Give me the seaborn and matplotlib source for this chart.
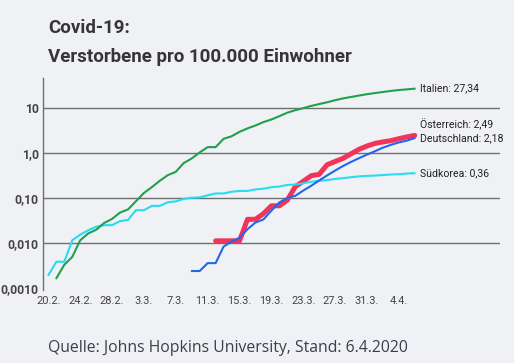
import pandas as pd
import numpy as np
import matplotlib
matplotlib.use("Agg")
import matplotlib.pyplot as plt
import seaborn as sns

# deaths per 100.000 inhabitants (JHU), one value per day from the start date
italy_start = "2020-02-21"
italy = [0.00165, 0.00331, 0.00496, 0.0116, 0.0165, 0.0199, 0.0281, 0.0347, 0.0480,
         0.0563, 0.0860, 0.1307, 0.177, 0.245, 0.326, 0.386, 0.606, 0.766, 1.044,
         1.368, 1.368, 2.095, 2.384, 2.993, 3.570, 4.141, 4.927, 5.634, 6.671, 7.983,
         9.060, 10.055, 11.284, 12.414, 13.592, 15.113, 16.583, 17.834, 19.178,
         20.563, 21.766, 23.023, 24.290, 25.417, 26.286, 27.34]

korea_start = "2020-02-20"
korea = [0.00194, 0.00387, 0.00387, 0.0116, 0.0155, 0.0194, 0.0232, 0.0252, 0.0252,
         0.0310, 0.0329, 0.0542, 0.0542, 0.0677, 0.0677, 0.0813, 0.0852, 0.0968,
         0.1026, 0.1045, 0.1161, 0.1277, 0.1277, 0.1393, 0.1452, 0.1452, 0.1568,
         0.1626, 0.1761, 0.1819, 0.1974, 0.2013, 0.2148, 0.2322, 0.2439, 0.2535,
         0.2690, 0.2787, 0.2942, 0.3058, 0.3135, 0.3193, 0.3271, 0.3368, 0.3426,
         0.3542, 0.36]

germany_start = "2020-03-09"
germany = [0.00241, 0.00241, 0.00361, 0.00361, 0.00843, 0.01084, 0.01325, 0.0205,
           0.0289, 0.0337, 0.0530, 0.0807, 0.1012, 0.1132, 0.1481, 0.1891, 0.2481,
           0.3216, 0.4119, 0.5215, 0.6419, 0.7768, 0.9334, 1.108, 1.333, 1.536,
           1.739, 1.908, 2.18]

austria_start = "2020-03-12"
austria = [0.0113, 0.0113, 0.0113, 0.0113, 0.034, 0.034, 0.0453, 0.0679, 0.0679,
           0.0906, 0.181, 0.238, 0.317, 0.340, 0.555, 0.656, 0.770, 0.973, 1.222,
           1.449, 1.653, 1.788, 1.902, 2.105, 2.309, 2.49]

end_labels = {"Italien": "Italien: 27,34", "Österreich": "Österreich: 2,49",
              "Deutschland": "Deutschland: 2,18", "Südkorea": "Südkorea: 0,36"}

xtick_dates = ["2020-02-20", "2020-02-24", "2020-02-28", "2020-03-03", "2020-03-07",
               "2020-03-11", "2020-03-15", "2020-03-19", "2020-03-23", "2020-03-27",
               "2020-03-31", "2020-04-04"]
xtick_labels = ["20.2.", "24.2.", "28.2.", "3.3.", "7.3.", "11.3.", "15.3.", "19.3.",
                "23.3.", "27.3.", "31.3.", "4.4."]
ytick_values = [0.001, 0.01, 0.1, 1, 10]
ytick_labels = ["0,0010", "0,010", "0,10", "1,0", "10"]


def make_frame(name, start, values):
    return pd.DataFrame({"Land": name,
                         "Datum": pd.date_range(start, periods=len(values), freq="D"),
                         "Wert": values})


df = pd.concat([make_frame("Österreich", austria_start, austria),
                make_frame("Südkorea", korea_start, korea),
                make_frame("Italien", italy_start, italy),
                make_frame("Deutschland", germany_start, germany)])

colors = {"Italien": "#1ea04e", "Südkorea": "#26dcf0",
          "Deutschland": "#2266ee", "Österreich": "#f0345a"}
widths = {"Italien": 1.5, "Südkorea": 1.5, "Deutschland": 1.5, "Österreich": 3.6}
label_offset = {"Italien": 0, "Südkorea": 0, "Deutschland": 0, "Österreich": 8}

sns.set_theme(style="white")
bg = "#f0f1f5"
plt.rcParams["font.family"] = ["Roboto", "DejaVu Sans"]

fig = plt.figure(figsize=(5.14, 3.63), dpi=100, facecolor=bg)
ax = fig.add_axes([43 / 514, 73 / 363, 457 / 514, 212 / 363], facecolor=bg)

for land in ["Österreich", "Südkorea", "Italien", "Deutschland"]:
    sub = df[df["Land"] == land]
    sns.lineplot(data=sub, x="Datum", y="Wert", color=colors[land],
                 linewidth=widths[land], ax=ax, legend=False)
    last = sub.iloc[-1]
    ax.annotate(end_labels[land], xy=(last["Datum"], last["Wert"]),
                xytext=(4, label_offset[land]), textcoords="offset points",
                va="center", ha="left", fontsize=7.6, color="#222222")

ax.set_yscale("log")
ax.set_ylim(10 ** -3.04, 10 ** 1.673)
start = pd.Timestamp("2020-02-20")
ax.set_xlim(start - pd.Timedelta(days=0.67), start + pd.Timedelta(days=56.7))

for v in ytick_values[1:]:
    ax.axhline(v, color="#6f6f6f", linewidth=1.0, zorder=0)

ax.set_yticks(ytick_values)
ax.set_yticklabels(ytick_labels, fontsize=8.7, fontweight="bold", color="#444444")
ax.yaxis.set_minor_locator(matplotlib.ticker.NullLocator())
ax.set_xticks(pd.to_datetime(xtick_dates))
ax.set_xticklabels(xtick_labels, fontsize=7.9, color="#444444")
ax.tick_params(axis="both", length=0)
ax.tick_params(axis="y", pad=3)
ax.tick_params(axis="x", pad=4)
ax.set_xlabel("")
ax.set_ylabel("")

for side in ["top", "right", "bottom"]:
    ax.spines[side].set_visible(False)
ax.spines["left"].set_color("#6f6f6f")
ax.spines["left"].set_linewidth(1.0)

fig.text(48 / 514, 1 - 33 / 363, "Covid-19:", fontsize=13.5, fontweight="bold",
         color="#353535", va="baseline")
fig.text(48 / 514, 1 - 62 / 363, "Verstorbene pro 100.000 Einwohner", fontsize=13.5,
         fontweight="bold", color="#353535", va="baseline")
fig.text(48 / 514, 1 - 352 / 363, "Quelle: Johns Hopkins University, Stand: 6.4.2020",
         fontsize=11.3, color="#3a3f4a", va="baseline", family=["Open Sans", "DejaVu Sans"])

fig.savefig("out.png", dpi=100, facecolor=bg)
